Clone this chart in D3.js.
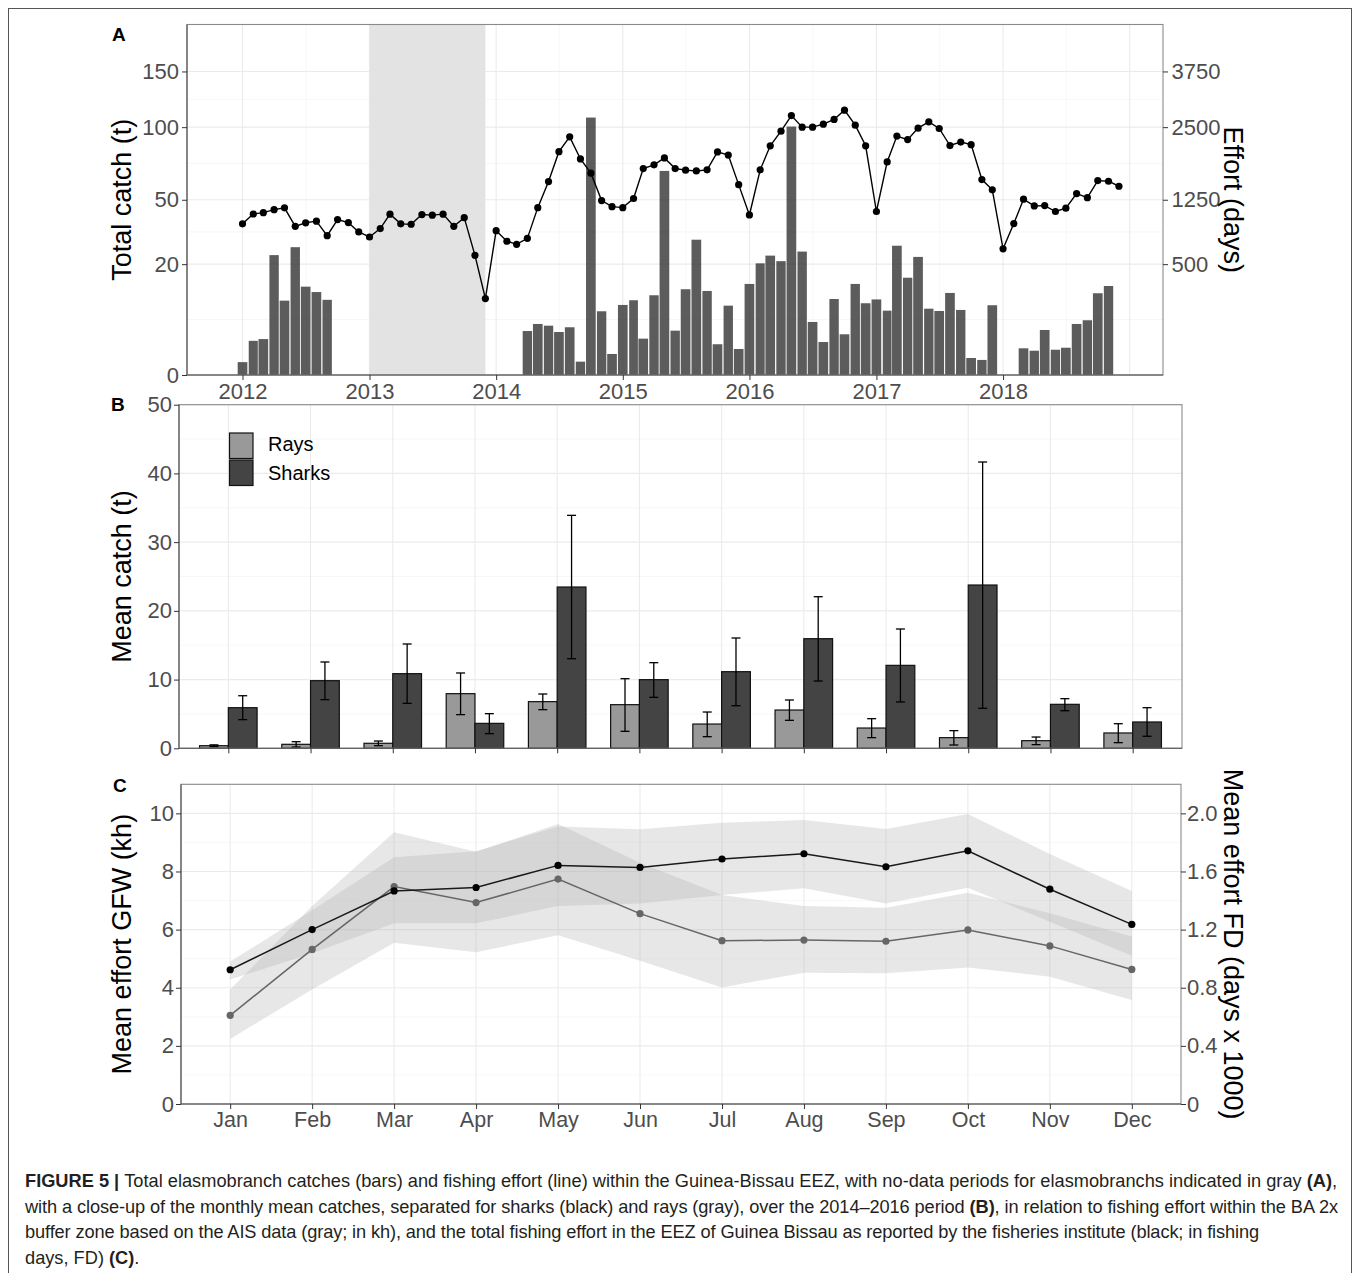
<!DOCTYPE html>
<html><head><meta charset="utf-8">
<script src="https://cdn.jsdelivr.net/npm/d3@7"></script>
<style>
body{margin:0;background:#fff}
svg{display:block}
text{font-family:"Liberation Sans",Arial,Helvetica,sans-serif}
</style>
</head><body>
<svg id="fig" width="1360" height="1273"></svg>
<script>
// ---------------- DATA ----------------
// Panel A: monthly total elasmobranch catch (t)
const catchMonths = [
 "2012-01","2012-02","2012-03","2012-04","2012-05","2012-06","2012-07","2012-08","2012-09",
 "2014-04","2014-05","2014-06","2014-07","2014-08","2014-09","2014-10","2014-11","2014-12",
 "2015-01","2015-02","2015-03","2015-04","2015-05","2015-06","2015-07","2015-08","2015-09","2015-10","2015-11","2015-12",
 "2016-01","2016-02","2016-03","2016-04","2016-05","2016-06","2016-07","2016-08","2016-09","2016-10","2016-11","2016-12",
 "2017-01","2017-02","2017-03","2017-04","2017-05","2017-06","2017-07","2017-08","2017-09","2017-10","2017-11","2017-12",
 "2018-03","2018-04","2018-05","2018-06","2018-07","2018-08","2018-09","2018-10","2018-11"];
const catchValues = [
 0.27, 1.9, 2.1, 23.4, 9.0, 26.6, 12.7, 11.2, 9.2,
 3.15, 4.24, 3.96, 3.01, 3.71, 0.29, 107.9, 6.61, 0.72,
 7.99, 9.10, 2.15, 10.35, 67.8, 3.20, 11.97, 29.8, 11.5, 1.54, 7.83, 1.10,
 13.5, 20.3, 23.2, 21.1, 100.5, 24.8, 4.58, 1.77, 9.4, 2.70, 13.5, 8.38,
 9.3, 6.74, 27.2, 15.4, 22.7, 7.16, 6.67, 10.96, 6.89, 0.47, 0.37, 7.92,
 1.16, 0.96, 3.30, 1.04, 1.21, 4.24, 4.88, 10.88, 12.9];
// Panel A: monthly fishing effort (days)
const effortMonths = [
 "2012-01","2012-02","2012-03","2012-04","2012-05","2012-06","2012-07","2012-08","2012-09","2012-10","2012-11","2012-12",
 "2013-01","2013-02","2013-03","2013-04","2013-05","2013-06","2013-07","2013-08","2013-09","2013-10","2013-11","2013-12",
 "2014-01","2014-02","2014-03","2014-04","2014-05","2014-06","2014-07","2014-08","2014-09","2014-10","2014-11","2014-12",
 "2015-01","2015-02","2015-03","2015-04","2015-05","2015-06","2015-07","2015-08","2015-09","2015-10","2015-11","2015-12",
 "2016-01","2016-02","2016-03","2016-04","2016-05","2016-06","2016-07","2016-08","2016-09","2016-10","2016-11","2016-12",
 "2017-01","2017-02","2017-03","2017-04","2017-05","2017-06","2017-07","2017-08","2017-09","2017-10","2017-11","2017-12",
 "2018-01","2018-02","2018-03","2018-04","2018-05","2018-06","2018-07","2018-08","2018-09","2018-10","2018-11","2018-12"];
const effortValues = [
 930, 1055, 1073, 1113, 1138, 900, 943, 963, 790, 983, 945, 833,
 775, 873, 1053, 930, 925, 1048, 1040, 1053, 900, 1008, 583, 238,
 848, 728, 695, 760, 1140, 1523, 2030, 2308, 1900, 1658, 1238, 1153,
 1140, 1268, 1735, 1798, 1918, 1735, 1708, 1695, 1713, 2025, 1968, 1475,
 1043, 1713, 2138, 2420, 2740, 2500, 2500, 2560, 2658, 2855, 2540, 2138,
 1088, 1848, 2323, 2255, 2480, 2608, 2473, 2143, 2208, 2160, 1555, 1395,
 648, 933, 1258, 1163, 1168, 1088, 1133, 1340, 1280, 1538, 1528, 1450];
const noDataPeriod = ["2013-01", "2013-12"];
const yearTicks = [2012, 2013, 2014, 2015, 2016, 2017, 2018];
const yearGrid = [2012, 2013, 2014, 2015, 2016, 2017, 2018, 2019];
const catchTicks = [0, 20, 50, 100, 150];
const effortTicks = [500, 1250, 2500, 3750];

// Panel B: monthly mean catch (t), 2014-2016
const months = ["Jan","Feb","Mar","Apr","May","Jun","Jul","Aug","Sep","Oct","Nov","Dec"];
const raysMean  = [0.38, 0.58, 0.73, 7.95, 6.79, 6.35, 3.53, 5.57, 2.95, 1.55, 1.11, 2.23];
const raysLow   = [0.25, 0.19, 0.38, 4.90, 5.62, 2.47, 1.69, 4.07, 1.55, 0.48, 0.53, 0.82];
const raysHigh  = [0.50, 0.96, 1.06, 10.96, 7.90, 10.13, 5.28, 7.03, 4.31, 2.57, 1.64, 3.58];
const sharksMean = [5.91, 9.84, 10.86, 3.63, 23.47, 9.99, 11.15, 15.95, 12.07, 23.76, 6.40, 3.83];
const sharksLow  = [4.17, 7.08, 6.54, 2.13, 13.04, 7.42, 6.20, 9.79, 6.74, 5.82, 5.47, 1.75];
const sharksHigh = [7.65, 12.56, 15.18, 5.04, 33.90, 12.46, 16.05, 22.06, 17.36, 41.66, 7.22, 5.91];
const catchMeanTicks = [0, 10, 20, 30, 40, 50];

// Panel C: mean effort
const gfwMean = [3.05, 5.32, 7.48, 6.93, 7.74, 6.55, 5.62, 5.64, 5.60, 5.99, 5.44, 4.63];
const gfwLow  = [2.24, 3.94, 5.55, 5.22, 5.81, 4.93, 4.01, 4.52, 4.50, 4.70, 4.38, 3.58];
const gfwHigh = [3.94, 6.81, 9.35, 8.68, 9.63, 8.30, 7.19, 6.81, 6.75, 7.27, 6.56, 5.76];
const fdMean = [0.924, 1.200, 1.466, 1.490, 1.642, 1.628, 1.686, 1.722, 1.632, 1.742, 1.478, 1.236];
const fdLow  = [0.856, 1.038, 1.244, 1.244, 1.362, 1.380, 1.438, 1.484, 1.380, 1.488, 1.254, 1.020];
const fdHigh = [0.980, 1.334, 1.698, 1.740, 1.910, 1.890, 1.936, 1.954, 1.892, 1.996, 1.720, 1.466];
const gfwTicks = [0, 2, 4, 6, 8, 10];
const fdTicks = [0, 0.4, 0.8, 1.2, 1.6, 2.0];

// ---------------- DRAWING ----------------
const svg = d3.select("#fig");
const TICKTXT = "#4d4d4d", TICKLN = "#333333";
const GRIDMAJ = "#ebebeb", GRIDMIN = "#f2f2f2";
const BORDER = "#8a8a8a", AXISLN = "#555555";
const parseM = s => { const [y, m] = s.split("-").map(Number); return new Date(Date.UTC(y, m - 1, 1)); };

// figure frame
svg.append("rect").attr("x", 8.5).attr("y", 8.5).attr("width", 1343).attr("height", 1290)
  .attr("fill", "none").attr("stroke", "#555").attr("stroke-width", 1);

function styleAxis(g, fs) {
  g.select(".domain").remove();
  g.selectAll(".tick line").attr("stroke", TICKLN).attr("stroke-width", 1);
  g.selectAll(".tick text").attr("fill", TICKTXT).attr("font-size", fs)
    .attr("font-family", '"Liberation Sans",Arial,Helvetica,sans-serif');
}
function border(P) {
  svg.append("rect").attr("x", P.l).attr("y", P.t).attr("width", P.r - P.l).attr("height", P.b - P.t)
    .attr("fill", "none").attr("stroke", BORDER).attr("stroke-width", 1.1);
  svg.append("line").attr("x1", P.l).attr("x2", P.l).attr("y1", P.t).attr("y2", P.b).attr("stroke", AXISLN).attr("stroke-width", 1.1);
  svg.append("line").attr("x1", P.l).attr("x2", P.r).attr("y1", P.b).attr("y2", P.b).attr("stroke", AXISLN).attr("stroke-width", 1.1);
}
function hline(g, P, y, col, w) {
  g.append("line").attr("x1", P.l).attr("x2", P.r).attr("y1", y).attr("y2", y).attr("stroke", col).attr("stroke-width", w);
}
function vline(g, P, x, col, w) {
  g.append("line").attr("x1", x).attr("x2", x).attr("y1", P.t).attr("y2", P.b).attr("stroke", col).attr("stroke-width", w);
}
function titleLeft(txt, cy) {
  svg.append("text").attr("transform", `translate(131,${cy}) rotate(-90)`).attr("text-anchor", "middle")
    .attr("font-size", 27).attr("fill", "#000").text(txt);
}
function titleRight(txt, cy) {
  svg.append("text").attr("transform", `translate(1224,${cy}) rotate(90)`).attr("text-anchor", "middle")
    .attr("font-size", 27).attr("fill", "#000").text(txt);
}
function panelLabel(txt, x, y) {
  svg.append("text").attr("x", x).attr("y", y).attr("font-size", 19).attr("font-weight", "bold").attr("fill", "#000").text(txt);
}

// ===== Panel A =====
const PA = { l: 187, r: 1163, t: 24.5, b: 375 };
const xA = d3.scaleUtc().domain([new Date(Date.UTC(2011, 6, 25)), new Date(Date.UTC(2019, 3, 7))]).range([PA.l, PA.r]);
const yA = d3.scaleSqrt().domain([0, 200]).range([PA.b, PA.t]);
const gA = svg.append("g");
// minor grid
for (let i = 0; i < catchTicks.length - 1; i++) {
  const m = Math.pow((Math.sqrt(catchTicks[i]) + Math.sqrt(catchTicks[i + 1])) / 2, 2);
  hline(gA, PA, yA(m), GRIDMIN, 0.6);
}
yearGrid.concat([2011]).forEach(y => {
  const x = xA(new Date(Date.UTC(y, 6, 2)));
  if (x > PA.l && x < PA.r) vline(gA, PA, x, GRIDMIN, 0.6);
});
catchTicks.forEach(v => hline(gA, PA, yA(v), GRIDMAJ, 1.1));
yearGrid.forEach(y => vline(gA, PA, xA(new Date(Date.UTC(y, 0, 1))), GRIDMAJ, 1.1));
// no-data period
gA.append("rect").attr("x", xA(parseM(noDataPeriod[0]))).attr("y", PA.t)
  .attr("width", xA(parseM(noDataPeriod[1])) - xA(parseM(noDataPeriod[0]))).attr("height", PA.b - PA.t)
  .attr("fill", "#e3e3e3");
// bars
const barData = catchMonths.map((m, i) => ({ d: parseM(m), v: catchValues[i] }));
gA.selectAll("rect.bar").data(barData).enter().append("rect").attr("class", "bar")
  .attr("x", d => { const w = xA(d3.utcMonth.offset(d.d, 1)) - xA(d.d); return xA(d.d) - 0.45 * w; })
  .attr("width", d => 0.9 * (xA(d3.utcMonth.offset(d.d, 1)) - xA(d.d)))
  .attr("y", d => yA(d.v)).attr("height", d => yA(0) - yA(d.v))
  .attr("fill", "#333333").attr("fill-opacity", 0.8);
// effort line (secondary axis: effort = catch * 25)
const effData = effortMonths.map((m, i) => ({ d: parseM(m), v: effortValues[i] / 25 }));
gA.append("path").datum(effData).attr("fill", "none").attr("stroke", "#000").attr("stroke-width", 1.4)
  .attr("d", d3.line().x(d => xA(d.d)).y(d => yA(d.v)));
gA.selectAll("circle.eff").data(effData).enter().append("circle").attr("class", "eff")
  .attr("cx", d => xA(d.d)).attr("cy", d => yA(d.v)).attr("r", 3.6).attr("fill", "#000");
border(PA);
const axAL = svg.append("g").attr("transform", `translate(${PA.l},0)`)
  .call(d3.axisLeft(yA).tickValues(catchTicks).tickSize(5).tickPadding(3).tickFormat(d3.format("d")));
styleAxis(axAL, 22);
const axAR = svg.append("g").attr("transform", `translate(${PA.r},0)`)
  .call(d3.axisRight(yA).tickValues(effortTicks.map(v => v / 25)).tickSize(5).tickPadding(3.5).tickFormat(v => d3.format("d")(Math.round(v * 25))));
styleAxis(axAR, 22);
const axAB = svg.append("g").attr("transform", `translate(0,${PA.b})`)
  .call(d3.axisBottom(xA).tickValues(yearTicks.map(y => new Date(Date.UTC(y, 0, 1)))).tickSize(5).tickPadding(3).tickFormat(d3.utcFormat("%Y")));
styleAxis(axAB, 22);
titleLeft("Total catch (t)", (PA.t + PA.b) / 2);
titleRight("Effort (days)", (PA.t + PA.b) / 2);
panelLabel("A", 112, 41);

// ===== Panel B =====
const PB = { l: 179, r: 1182, t: 404.7, b: 748.3 };
const xB = d3.scalePoint().domain(months).range([PB.l, PB.r]).padding(0.6);
const yB = d3.scaleLinear().domain([0, 50]).range([PB.b, PB.t]);
const gB = svg.append("g");
[5, 15, 25, 35, 45].forEach(v => hline(gB, PB, yB(v), GRIDMIN, 0.6));
catchMeanTicks.forEach(v => hline(gB, PB, yB(v), GRIDMAJ, 1.1));
months.forEach(m => vline(gB, PB, xB(m), GRIDMAJ, 1.1));
const bw = 0.35 * xB.step();
const raysData = months.map((m, i) => ({ m, v: raysMean[i], lo: raysLow[i], hi: raysHigh[i], off: -bw / 2, fill: "#999999" }));
const sharksData = months.map((m, i) => ({ m, v: sharksMean[i], lo: sharksLow[i], hi: sharksHigh[i], off: bw / 2, fill: "#444444" }));
const allB = raysData.concat(sharksData);
gB.selectAll("rect.mb").data(allB).enter().append("rect").attr("class", "mb")
  .attr("x", d => xB(d.m) + d.off - bw / 2).attr("width", bw)
  .attr("y", d => yB(d.v)).attr("height", d => yB(0) - yB(d.v))
  .attr("fill", d => d.fill).attr("stroke", "#111").attr("stroke-width", 1.2);
const cap = 4.5;
allB.forEach(d => {
  const cx = xB(d.m) + d.off;
  gB.append("line").attr("x1", cx).attr("x2", cx).attr("y1", yB(d.lo)).attr("y2", yB(d.hi)).attr("stroke", "#000").attr("stroke-width", 1.3);
  [d.lo, d.hi].forEach(v => gB.append("line").attr("x1", cx - cap).attr("x2", cx + cap).attr("y1", yB(v)).attr("y2", yB(v)).attr("stroke", "#000").attr("stroke-width", 1.3));
});
border(PB);
const axBL = svg.append("g").attr("transform", `translate(${PB.l},0)`)
  .call(d3.axisLeft(yB).tickValues(catchMeanTicks).tickSize(5).tickPadding(2));
styleAxis(axBL, 22);
const axBB = svg.append("g").attr("transform", `translate(0,${PB.b})`)
  .call(d3.axisBottom(xB).tickSize(5).tickFormat(""));
styleAxis(axBB, 22);
// legend
const legB = svg.append("g");
[["Rays", "#999999", 433, 451], ["Sharks", "#444444", 460, 480]].forEach(([lab, col, y, ty]) => {
  legB.append("rect").attr("x", 229.5).attr("y", y).attr("width", 23.5).attr("height", 25.5)
    .attr("fill", col).attr("stroke", "#111").attr("stroke-width", 1.2);
  legB.append("text").attr("x", 268).attr("y", ty).attr("font-size", 20).attr("fill", "#000").text(lab);
});
titleLeft("Mean catch (t)", (PB.t + PB.b) / 2);
panelLabel("B", 111, 411);

// ===== Panel C =====
const PC = { l: 181, r: 1181, t: 784.3, b: 1104 };
const xC = d3.scalePoint().domain(months).range([PC.l, PC.r]).padding(0.6);
const yC = d3.scaleLinear().domain([0, 11]).range([PC.b, PC.t]);
const gC = svg.append("g");
[1, 3, 5, 7, 9].forEach(v => hline(gC, PC, yC(v), GRIDMIN, 0.6));
gfwTicks.forEach(v => hline(gC, PC, yC(v), GRIDMAJ, 1.1));
months.forEach(m => vline(gC, PC, xC(m), GRIDMAJ, 1.1));
const FD2L = 5; // secondary axis: FD (days x 1000) * 5 = left units
const gfwData = months.map((m, i) => ({ m, v: gfwMean[i], lo: gfwLow[i], hi: gfwHigh[i] }));
const fdData = months.map((m, i) => ({ m, v: fdMean[i] * FD2L, lo: fdLow[i] * FD2L, hi: fdHigh[i] * FD2L }));
const area = d3.area().x(d => xC(d.m)).y0(d => yC(d.lo)).y1(d => yC(d.hi));
[gfwData, fdData].forEach(dat => gC.append("path").datum(dat).attr("d", area)
  .attr("fill", "#b0b0b0").attr("fill-opacity", 0.3));
const lineC = d3.line().x(d => xC(d.m)).y(d => yC(d.v));
gC.append("path").datum(gfwData).attr("d", lineC).attr("fill", "none").attr("stroke", "#666666").attr("stroke-width", 1.5);
gC.append("path").datum(fdData).attr("d", lineC).attr("fill", "none").attr("stroke", "#1a1a1a").attr("stroke-width", 1.5);
gC.selectAll("circle.g").data(gfwData).enter().append("circle").attr("class", "g")
  .attr("cx", d => xC(d.m)).attr("cy", d => yC(d.v)).attr("r", 3.6).attr("fill", "#666666");
gC.selectAll("circle.f").data(fdData).enter().append("circle").attr("class", "f")
  .attr("cx", d => xC(d.m)).attr("cy", d => yC(d.v)).attr("r", 3.6).attr("fill", "#000");
border(PC);
const axCL = svg.append("g").attr("transform", `translate(${PC.l},0)`)
  .call(d3.axisLeft(yC).tickValues(gfwTicks).tickSize(5).tickPadding(2));
styleAxis(axCL, 22);
const axCR = svg.append("g").attr("transform", `translate(${PC.r},0)`)
  .call(d3.axisRight(yC).tickValues(fdTicks.map(v => v * FD2L)).tickSize(5).tickPadding(1)
    .tickFormat(v => v === 0 ? "0" : d3.format(".1f")(v / FD2L)));
styleAxis(axCR, 22);
const axCB = svg.append("g").attr("transform", `translate(0,${PC.b})`)
  .call(d3.axisBottom(xC).tickSize(5).tickPadding(3));
styleAxis(axCB, 21.5);
titleLeft("Mean effort GFW (kh)", (PC.t + PC.b) / 2);
titleRight("Mean effort FD (days x 1000)", (PC.t + PC.b) / 2);
panelLabel("C", 113, 792);

// ===== Caption =====
const captionLines = [
  [["FIGURE 5 | ", true], ["Total elasmobranch catches (bars) and fishing effort (line) within the Guinea-Bissau EEZ, with no-data periods for elasmobranchs indicated in gray ", false], ["(A)", true], [",", false]],
  [["with a close-up of the monthly mean catches, separated for sharks (black) and rays (gray), over the 2014–2016 period ", false], ["(B)", true], [", in relation to fishing effort within the BA 2x", false]],
  [["buffer zone based on the AIS data (gray; in kh), and the total fishing effort in the EEZ of Guinea Bissau as reported by the fisheries institute (black; in fishing", false]],
  [["days, FD) ", false], ["(C)", true], [".", false]]
];
const capY = [1187, 1212.7, 1238.4, 1264];
const capTarget = [1313, 1313, 1234, null];
const capG = svg.append("g");
const capTexts = captionLines.map((segs, i) => {
  const t = capG.append("text").attr("x", 25).attr("y", capY[i]).attr("font-size", 16).attr("fill", "#231f20").attr("xml:space", "preserve");
  segs.forEach(([s, b]) => t.append("tspan").attr("font-weight", b ? "bold" : "normal").text(s));
  return t;
});
const w0 = capTexts[0].node().getComputedTextLength();
const fs = 16 * 1313 / w0;
capTexts.forEach(t => t.attr("font-size", fs));
capTexts.forEach((t, i) => {
  if (capTarget[i] == null || i === 0) return;
  const w = t.node().getComputedTextLength();
  const n = t.text().length;
  t.attr("letter-spacing", (capTarget[i] - w) / n);
});
</script>
</body></html>
